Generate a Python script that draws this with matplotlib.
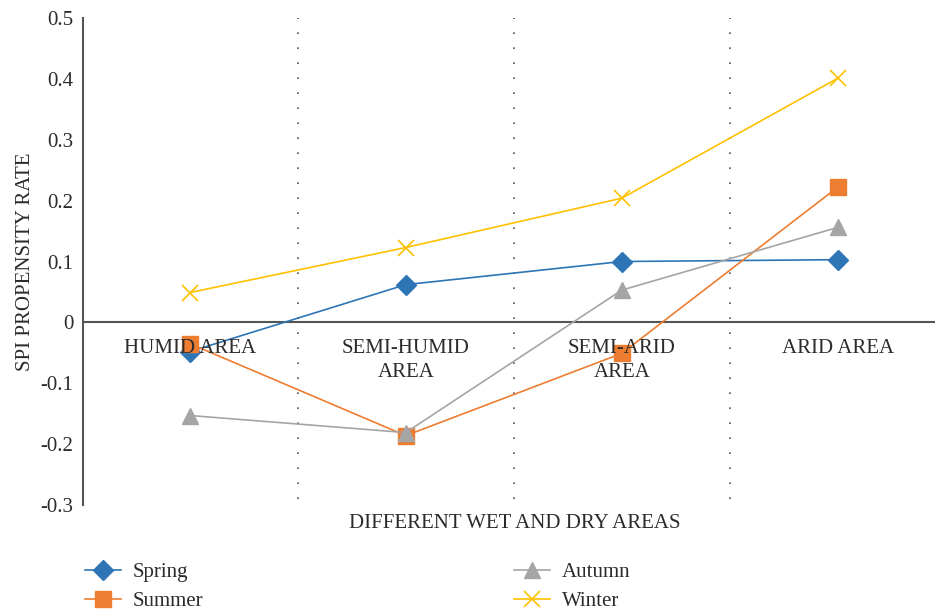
import matplotlib
matplotlib.use("Agg")
import matplotlib.pyplot as plt

# categories and seasonal SPI propensity rates
areas = ["HUMID AREA", "SEMI-HUMID\nAREA", "SEMI-ARID\nAREA", "ARID AREA"]
spring = [-0.048, 0.062, 0.100, 0.103]
summer = [-0.035, -0.186, -0.051, 0.222]
autumn = [-0.153, -0.181, 0.053, 0.156]
winter = [0.049, 0.123, 0.204, 0.401]
yticks = [-0.3, -0.2, -0.1, 0, 0.1, 0.2, 0.3, 0.4, 0.5]
ytick_labels = ["-0.3", "-0.2", "-0.1", "0", "0.1", "0.2", "0.3", "0.4", "0.5"]

plt.rcParams['font.family'] = ['Liberation Serif', 'DejaVu Serif']
txt = "#2b2b2b"
fs = 15

fig = plt.figure(figsize=(9.35, 6.11), dpi=100)
ax = fig.add_axes([0.0888, 0.1735, 0.911, 0.797])

x = list(range(len(areas)))
ax.plot(x, spring, color="#2E75B6", marker="D", markersize=10, lw=1.2, label="Spring", zorder=3)
ax.plot(x, summer, color="#ED7D31", marker="s", markersize=12, lw=1.2, label="Summer", zorder=3)
ax.plot(x, autumn, color="#A5A5A5", marker="^", markersize=12, lw=1.2, label="Autumn", zorder=3)
ax.plot(x, winter, color="#FFC000", marker="x", markersize=12, mew=1.2, lw=1.2, label="Winter", zorder=3)

# separators between categories
for b in [0.5, 1.5, 2.5]:
    ax.plot([b, b], [-0.29, 0.5], color="#555555", lw=1.2, linestyle=(0, (1, 8)), zorder=1)

ax.axhline(0, color="#555555", lw=1.5, zorder=2)

for i, name in enumerate(areas):
    ax.text(i, -0.027, name, ha="center", va="top", fontsize=fs, color=txt,
            linespacing=1.35, zorder=4)

ax.set_xlim(-0.495, 3.45)
ax.set_ylim(-0.3, 0.5)
ax.set_xticks([])
ax.set_yticks(yticks)
ax.set_yticklabels(ytick_labels)
ax.tick_params(axis="y", length=0, pad=7, labelsize=fs, labelcolor=txt)
for s in ["top", "right", "bottom"]:
    ax.spines[s].set_visible(False)
ax.spines["left"].set_color("#555555")
ax.spines["left"].set_linewidth(1.5)

ax.set_ylabel("SPI PROPENSITY RATE", fontsize=fs, color=txt, labelpad=4)
fig.text(0.551, 1 - 523 / 611, "DIFFERENT WET AND DRY AREAS", ha="center", va="center",
         fontsize=fs, color=txt)

handles, labels = ax.get_legend_handles_labels()
fig.legend(handles, labels, ncol=2, loc="upper left", bbox_to_anchor=(0.082, 1 - 554 / 611),
           frameon=False, fontsize=fs, handlelength=1.75, handletextpad=0.55,
           columnspacing=14.9, labelspacing=0.45, labelcolor=txt, borderaxespad=0)

fig.savefig("out.png", dpi=100)
